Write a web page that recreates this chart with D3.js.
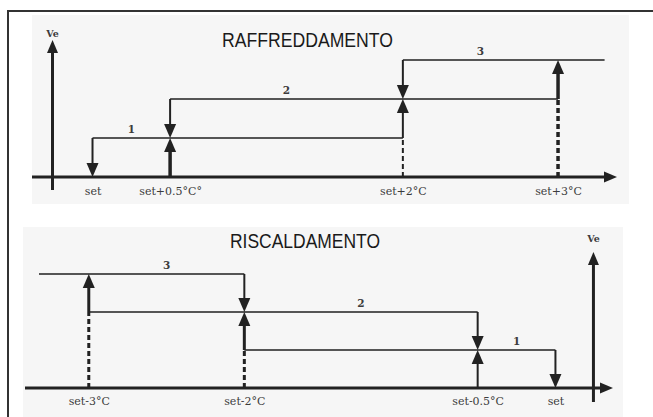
<!DOCTYPE html>
<html><head><meta charset="utf-8">
<script src="https://cdn.jsdelivr.net/npm/d3@7"></script>
<style>body{margin:0;background:#fff}svg{display:block}</style>
</head><body>
<svg id="c" width="653" height="417"></svg>
<script>
// ---- data ----
const stages = [1, 2, 3];
const coolOn = [0.5, 2, 3];          // °C above set where stage k switches on
const coolOff = [0, 0.5, 2];         // °C above set where stage k switches off
const coolLevelEnd = 3.3;
const coolTicks = [0, 0.5, 2, 3];
const coolTickLabels = ["set", "set+0.5°C°", "set+2°C", "set+3°C"];
const heatOn = [-0.5, -2, -3];
const heatOff = [0, -0.5, -2];
const heatLevelEnd = -3.32;
const heatTicks = [-3, -2, -0.5, 0];
const heatTickLabels = ["set-3°C", "set-2°C", "set-0.5°C", "set"];
const titles = ["RAFFREDDAMENTO", "RISCALDAMENTO"];
const yLabel = "Ve";

// ---- layout ----
const svg = d3.select("#c");
const ink = "#222", lvl = "#555", txt = "#3c3c3c";

svg.append("path").attr("d", "M8,417 L8,11 L653,11")
  .attr("fill", "none").attr("stroke", "#333").attr("stroke-width", 2);

const panels = [
  { on: coolOn, off: coolOff, end: coolLevelEnd, ticks: coolTicks, labels: coolTickLabels, title: titles[0],
    xDomain: [-0.39, 3.38], xRange: [32, 617], yRange: [177, 60],
    bg: [32, 15, 597, 189], titleX: 222, titleY: 47, titleW: 171,
    veDx: -40, veTop: 40, veBottom: 190, veLabelY: 37, tickPad: 10,
    upW: [3.5, 2, 3.5] },
  { on: heatOn, off: heatOff, end: heatLevelEnd, ticks: heatTicks, labels: heatTickLabels, title: titles[1],
    xDomain: [-3.41, 0.37], xRange: [25, 613], yRange: [388, 274],
    bg: [23, 227, 600, 190], titleX: 230, titleY: 248, titleW: 150,
    veDx: 38, veTop: 252, veBottom: 402, veLabelY: 242, tickPad: 9,
    upW: [2, 3, 3] }
];

function vArrow(g, x, y0, y1, w, hw, hl) {
  const dir = y1 < y0 ? -1 : 1;
  g.append("line").attr("x1", x).attr("x2", x).attr("y1", y0).attr("y2", y1 - dir * (hl - 1))
    .attr("stroke", ink).attr("stroke-width", w);
  g.append("path").attr("d", `M${x},${y1} L${x - hw},${y1 - dir * hl} L${x + hw},${y1 - dir * hl} Z`)
    .attr("fill", ink);
}

panels.forEach(p => {
  const g = svg.append("g");
  const x = d3.scaleLinear().domain(p.xDomain).range(p.xRange);
  const y = d3.scaleLinear().domain([0, 3]).range(p.yRange);
  const ax = y(0);

  g.append("rect").attr("x", p.bg[0]).attr("y", p.bg[1]).attr("width", p.bg[2]).attr("height", p.bg[3])
    .attr("fill", "#f6f6f6");

  g.append("text").attr("x", p.titleX).attr("y", p.titleY).text(p.title)
    .attr("font-family", "Liberation Sans, Arial, sans-serif").attr("font-size", 20.5)
    .attr("textLength", p.titleW).attr("lengthAdjust", "spacingAndGlyphs").attr("fill", "#1a1a1a");

  // level lines
  stages.forEach((k, i) => {
    const xe = i < stages.length - 1 ? p.on[i + 1] : p.end;
    g.append("line").attr("x1", x(p.off[i])).attr("x2", x(xe)).attr("y1", y(k)).attr("y2", y(k))
      .attr("stroke", lvl).attr("stroke-width", 2);
  });

  // x axis
  g.append("line").attr("x1", p.xRange[0]).attr("x2", p.xRange[1] - 12).attr("y1", ax).attr("y2", ax)
    .attr("stroke", ink).attr("stroke-width", 3);
  g.append("path").attr("d", `M${p.xRange[1]},${ax} L${p.xRange[1] - 13},${ax - 5.5} L${p.xRange[1] - 13},${ax + 5.5} Z`)
    .attr("fill", ink);

  // Ve axis
  const vx = x(0) + p.veDx;
  vArrow(g, vx, p.veBottom, p.veTop, 3, 5.5, 13);
  g.append("text").attr("x", vx).attr("y", p.veLabelY).attr("text-anchor", "middle").text(yLabel)
    .attr("font-family", "DejaVu Serif, serif").attr("font-weight", "bold").attr("font-size", 9.5).attr("fill", txt);

  // switching arrows
  stages.forEach((k, i) => {
    const xo = x(p.on[i]);
    if (k > 1) {
      g.append("line").attr("x1", xo).attr("x2", xo).attr("y1", ax).attr("y2", y(k - 1))
        .attr("stroke", ink).attr("stroke-width", p.upW[i]).attr("stroke-dasharray", "5,3");
    }
    vArrow(g, xo, y(k - 1), y(k), p.upW[i], 6, 14);
    vArrow(g, x(p.off[i]), y(k), y(k - 1), 2, 6, 14);
    g.append("text").attr("x", (x(p.off[i]) + xo) / 2).attr("y", y(k) - 5).attr("text-anchor", "middle")
      .text(k).attr("font-family", "DejaVu Serif, serif").attr("font-weight", "bold")
      .attr("font-size", 10.5).attr("fill", txt);
  });

  // tick labels
  const axis = d3.axisBottom(x).tickValues(p.ticks).tickFormat((d, i) => p.labels[i])
    .tickSize(0).tickPadding(p.tickPad);
  const ag = g.append("g").attr("transform", `translate(0,${ax})`).call(axis);
  ag.select(".domain").remove();
  ag.attr("font-family", "DejaVu Serif, serif").attr("font-size", 11);
  ag.selectAll("text").attr("fill", txt);
});
</script>
</body></html>
